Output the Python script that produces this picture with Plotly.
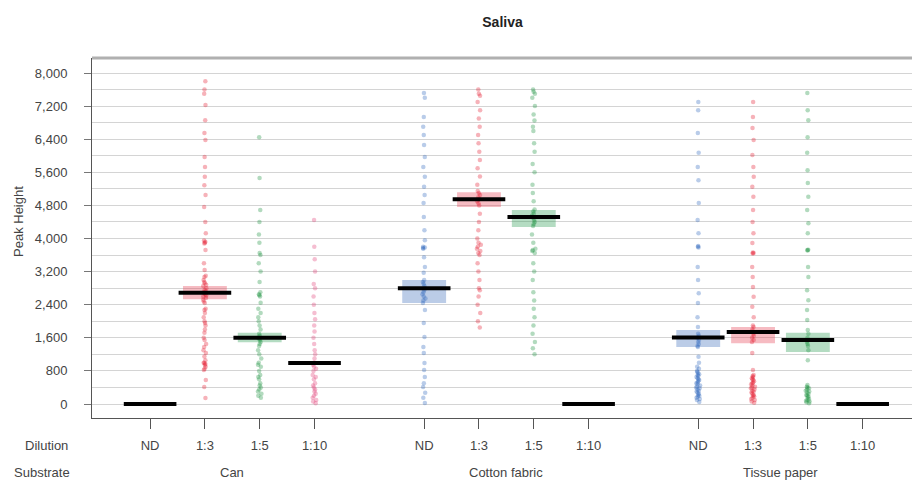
import plotly.graph_objects as go

# ---------------- data ----------------
substrates = ["Can", "Cotton fabric", "Tissue paper"]
dilutions = ["ND", "1:3", "1:5", "1:10"]

can_nd = []
can_13 = [7800, 7600, 7500, 7230, 6860, 6550, 6380, 5970, 5730, 5490, 5290, 5050, 4760, 4400,
          4130, 3950, 3920, 3900, 3880, 3720, 3400, 3240, 3100, 3070, 3000, 2950, 2920, 2880,
          2850, 2800, 2760, 2720, 2700, 2680, 2650, 2620, 2600, 2560, 2520, 2480, 2440, 2300,
          2270, 2200, 2100, 2000, 1960, 1900, 1800, 1720, 1600, 1550, 1450, 1380, 1300, 1230,
          1150, 1060, 1000, 990, 970, 940, 900, 850, 820, 580, 410, 145]
can_15 = [6450, 5460, 4690, 4400, 4100, 3900, 3650, 3600, 3400, 3200, 2950, 2700, 2650, 2630,
          2600, 2450, 2300, 2200, 2100, 2000, 1900, 1800, 1700, 1650, 1600, 1580, 1550, 1500,
          1450, 1400, 1300, 1200, 1100, 1000, 950, 900, 800, 700, 650, 600, 500, 450, 400, 350,
          300, 250, 200, 150]
can_110 = [4450, 3800, 3500, 3200, 2900, 2800, 2600, 2400, 2200, 2050, 1900, 1750, 1600, 1450,
           1300, 1200, 1100, 1000, 950, 900, 850, 800, 700, 650, 600, 500, 450, 400, 350, 300,
           250, 200, 150, 100, 60, 20]
cot_nd = [7520, 7400, 6940, 6700, 6500, 6260, 5970, 5730, 5490, 5250, 5050, 4860, 4520, 4200,
          3960, 3800, 3780, 3770, 3750, 3550, 3310, 3170, 3000, 2950, 2900, 2850, 2800, 2750,
          2700, 2650, 2600, 2550, 2500, 2440, 2270, 1960, 1620, 1380, 1230, 990, 820, 650, 500,
          410, 270, 150, 25]
cot_13 = [7600, 7500, 7450, 7300, 7100, 6900, 6700, 6500, 6300, 6100, 5900, 5700, 5500, 5300,
          5150, 5100, 5050, 5000, 4950, 4900, 4850, 4800, 4600, 4400, 4200, 4000, 3900, 3850,
          3800, 3750, 3700, 3650, 3600, 3400, 3200, 3000, 2800, 2750, 2600, 2400, 2200, 2000, 1850]
cot_15 = [7600, 7550, 7500, 7400, 7200, 7000, 6850, 6700, 6600, 6300, 6100, 5800, 5600, 5300,
          5100, 4900, 4700, 4650, 4600, 4550, 4500, 4450, 4400, 4350, 4300, 4100, 3900, 3750,
          3720, 3700, 3650, 3400, 3200, 3000, 2700, 2500, 2300, 2100, 1900, 1700, 1500, 1350, 1200]
cot_110 = []
tis_nd = [7300, 7100, 6550, 6070, 5730, 5410, 4860, 4450, 4130, 3820, 3800, 3780, 3310, 3000,
          2680, 2440, 2100, 1860, 1700, 1650, 1600, 1550, 1500, 1450, 1400, 1380, 1140, 1000,
          900, 850, 800, 780, 750, 720, 700, 680, 650, 620, 600, 580, 550, 520, 500, 480, 450,
          420, 400, 380, 350, 320, 300, 280, 250, 220, 200, 180, 150, 120, 100, 50]
tis_13 = [7300, 6940, 6670, 6380, 6020, 5730, 5490, 5250, 5010, 4690, 4400, 4130, 3890, 3660,
          3650, 3640, 3310, 3070, 2830, 2590, 2350, 2100, 1900, 1860, 1800, 1750, 1700, 1650,
          1600, 1550, 1500, 1230, 820, 700, 680, 650, 620, 600, 580, 550, 520, 500, 480, 450,
          420, 400, 380, 350, 320, 300, 280, 250, 220, 200, 180, 150, 120, 100, 60, 30]
tis_15 = [7520, 7100, 6860, 6450, 6070, 5650, 5340, 5010, 4690, 4370, 4130, 3730, 3720, 3710,
          3310, 3070, 2750, 2510, 2270, 2030, 1790, 1700, 1600, 1550, 1500, 1450, 1400, 1300,
          1060, 460, 420, 400, 380, 350, 320, 300, 280, 250, 220, 200, 180, 150, 120, 100, 80,
          60, 40, 20]
tis_110 = []

points = [[can_nd, can_13, can_15, can_110],
          [cot_nd, cot_13, cot_15, cot_110],
          [tis_nd, tis_13, tis_15, tis_110]]

means = [[0, 2690, 1600, 990],
         [2800, 4950, 4520, 0],
         [1610, 1740, 1550, 0]]
ci_low = [[0, 2530, 1490, 960],
          [2440, 4760, 4280, 0],
          [1380, 1470, 1260, 0]]
ci_high = [[0, 2850, 1720, 1020],
           [3000, 5120, 4690, 0],
           [1790, 1860, 1720, 0]]

y_ticks = [0, 800, 1600, 2400, 3200, 4000, 4800, 5600, 6400, 7200, 8000]

# ---------------- styles ----------------
pt_colors = [["#2a64bd", "#e3152b", "#15903b", "#e23a72"],
             ["#2a64bd", "#e3152b", "#15903b", "#e23a72"],
             ["#2a64bd", "#e3152b", "#15903b", "#e23a72"]]
band_colors = {"#2a64bd": "rgba(60,110,185,0.35)",
               "#e3152b": "rgba(230,60,80,0.35)",
               "#15903b": "rgba(40,155,80,0.35)",
               "#e23a72": "rgba(228,70,120,0.35)"}

FONT = "Liberation Sans, Arial, sans-serif"
fig = go.Figure()

tick_x, tick_t = [], []
band_x, band_base, band_h, band_c = [], [], [], []
mean_x, mean_y = [], []
for g in range(len(substrates)):
    for d in range(len(dilutions)):
        pos = g * 5 + d
        tick_x.append(pos)
        tick_t.append(dilutions[d])
        col = pt_colors[g][d]
        vals = points[g][d]
        if vals:
            fig.add_trace(go.Box(
                x=[pos] * len(vals), y=vals, boxpoints="all", jitter=1, pointpos=0,
                width=0.08, fillcolor="rgba(0,0,0,0)",
                line=dict(color="rgba(0,0,0,0)", width=0), whiskerwidth=0,
                marker=dict(color=col, size=4.5, opacity=0.33),
                showlegend=False, hoveron="points"))
        if ci_high[g][d] > ci_low[g][d]:
            band_x.append(pos)
            band_base.append(ci_low[g][d])
            band_h.append(ci_high[g][d] - ci_low[g][d])
            band_c.append(band_colors[col])
        mean_x += [pos - 0.48, pos + 0.48, None]
        mean_y += [means[g][d], means[g][d], None]

fig.add_trace(go.Bar(x=band_x, y=band_h, base=band_base, width=0.8,
                     marker=dict(color=band_c, line=dict(width=0)), showlegend=False))
fig.add_trace(go.Scatter(x=mean_x, y=mean_y, mode="lines",
                         line=dict(color="black", width=4), showlegend=False))

fig.update_layout(
    width=912, height=484, margin=dict(l=92, r=0, t=58, b=66),
    paper_bgcolor="white", plot_bgcolor="white", barmode="overlay", boxmode="overlay",
    font=dict(family=FONT, size=13, color="#444"),
    title=dict(text="<b>Saliva</b>", x=0.551, xanchor="center", y=0.955, yanchor="middle",
               font=dict(family=FONT, size=14, color="#222")),
    showlegend=False,
)
fig.update_xaxes(range=[-1.06, 13.9], tickmode="array", tickvals=tick_x, ticktext=tick_t,
                 ticks="outside", ticklen=10, tickcolor="#555", showgrid=False,
                 showline=True, linecolor="#555", linewidth=1, zeroline=False,
                 ticklabelstandoff=5, tickfont=dict(size=13, color="#444"))
fig.update_yaxes(range=[-338, 8363], tickmode="array", tickvals=y_ticks, tickformat=",",
                 ticks="outside", ticklen=7, tickcolor="#777", showgrid=True,
                 gridcolor="#d4d4d4", gridwidth=1,
                 minor=dict(dtick=400, tick0=0, showgrid=True, gridcolor="#d4d4d4", ticks=""),
                 showline=True, linecolor="#555", linewidth=1, zeroline=False,
                 ticklabelstandoff=14, tickfont=dict(size=13, color="#444"))

fig.add_shape(type="line", xref="paper", yref="paper", x0=0, x1=1, y0=1, y1=1,
              line=dict(color="#b0b0b0", width=3))

fig.add_annotation(text="Peak Height", xref="paper", yref="paper", x=(18 - 92) / 820,
                   xanchor="center", y=(418 - 222) / 360, yanchor="middle", textangle=-90,
                   showarrow=False, font=dict(size=13, color="#444"))
fig.add_annotation(text="Dilution", xref="paper", yref="paper", x=(46 - 92) / 820,
                   xanchor="center", y=(418 - 445) / 360, yanchor="middle",
                   showarrow=False, font=dict(size=13, color="#444"))
fig.add_annotation(text="Substrate", xref="paper", yref="paper", x=(42 - 92) / 820,
                   xanchor="center", y=(418 - 473) / 360, yanchor="middle",
                   showarrow=False, font=dict(size=13, color="#444"))
for g, name in enumerate(substrates):
    fig.add_annotation(text=name, xref="x", yref="paper", x=g * 5 + 1.5, xanchor="center",
                       y=(418 - 473) / 360, yanchor="middle",
                       showarrow=False, font=dict(size=13, color="#444"))

fig.write_html("out.html")
